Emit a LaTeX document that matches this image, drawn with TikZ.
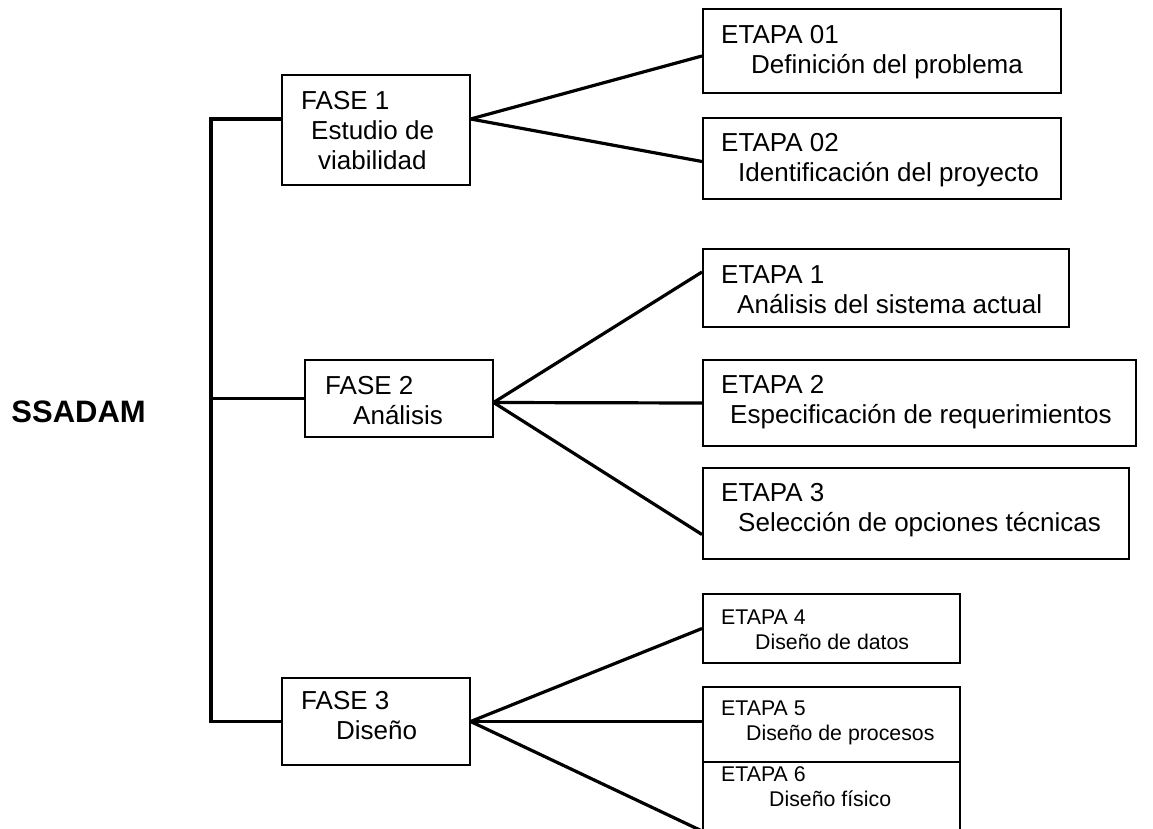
\documentclass[tikz,border=0pt]{standalone}
\usepackage{fontspec}
\setmainfont{Liberation Sans}
\usetikzlibrary{positioning,calc}

\begin{document}
\begin{tikzpicture}[x=1pt, y=-1pt, caja/.style={draw, line width=1.6pt, anchor=west, inner sep=0pt}, txt/.style={anchor=north west, align=left, inner sep=0pt, font=\fontsize{26}{30}\selectfont}, txtchico/.style={txt, font=\fontsize{21.3}{25}\selectfont}, conn/.style={line width=3.2pt}]

\useasboundingbox (0,0) rectangle (1153,829);
\clip (0,0) rectangle (1153,829);

\node[anchor=base east, inner sep=0pt, font=\bfseries\fontsize{31}{36}\selectfont] (ssadam) at (146,422) {SSADAM};

\node[caja, minimum width=188pt, minimum height=110pt] (fase1) at (281,130) {};
\node[txt] (fase1t) at ([shift={(20pt,-16.5pt)}]fase1.north west) {FASE 1\\\hspace*{10pt}Estudio de\\\hspace*{17pt}viabilidad};

\node[caja, minimum width=188pt, minimum height=77pt] (fase2) at (304,398.5) {};
\node[txt] (fase2t) at ([shift={(21pt,-16.5pt)}]fase2.north west) {FASE 2\\\hspace*{28pt}Análisis};

\node[caja, minimum width=188pt, minimum height=87pt] (fase3) at (281,721.5) {};
\node[txt] (fase3t) at ([shift={(20pt,-13.5pt)}]fase3.north west) {FASE 3\\\hspace*{35pt}Diseño};

\node[caja, minimum width=358pt, minimum height=84pt] (e01) at (702,51) {};
\node[txt] (e01t) at ([shift={(19pt,-17.4pt)}]e01.north west) {ETAPA 01\\\hspace*{30pt}Definición del problema};

\node[caja, minimum width=358pt, minimum height=81pt] (e02) at (702,158.5) {};
\node[txt] (e02t) at ([shift={(19pt,-16.4pt)}]e02.north west) {ETAPA 02\\\hspace*{17pt}Identificación del proyecto};

\node[caja, minimum width=366pt, minimum height=78pt] (e1) at (702,288) {};
\node[txt] (e1t) at ([shift={(19pt,-17.4pt)}]e1.north west) {ETAPA 1\\\hspace*{16pt}Análisis del sistema actual};

\node[caja, minimum width=433pt, minimum height=86pt] (e2) at (702,403) {};
\node[txt] (e2t) at ([shift={(19pt,-16.4pt)}]e2.north west) {ETAPA 2\\\hspace*{9pt}Especificación de requerimientos};

\node[caja, minimum width=426pt, minimum height=91pt] (e3) at (702,513.5) {};
\node[txt] (e3t) at ([shift={(19pt,-16.4pt)}]e3.north west) {ETAPA 3\\\hspace*{17pt}Selección de opciones técnicas};

\node[caja, minimum width=257pt, minimum height=69pt] (e4) at (702,628.5) {};
\node[txtchico] (e4t) at ([shift={(19pt,-16.7pt)}]e4.north west) {ETAPA 4\\\hspace*{34pt}Diseño de datos};

\node[caja, minimum width=257pt, minimum height=75pt] (e5) at (702,724.5) {};
\node[txtchico] (e5t) at ([shift={(19pt,-14.7pt)}]e5.north west) {ETAPA 5\\\hspace*{25pt}Diseño de procesos};

\node[caja, minimum width=257pt, minimum height=88pt] (e6) at (702,806) {};
\node[txtchico] (e6t) at ([shift={(19pt,-5.5pt)}]e6.north west) {ETAPA 6\\\hspace*{48pt}Diseño físico};

\coordinate (eje) at (211,0);
\draw[conn] ([yshift=11pt]fase1.west) -| (eje |- fase3.west) -- (fase3.west);
\draw[conn] (fase2.west) -- (fase2.west -| eje);

\draw[conn] ([yshift=11pt]fase1.east) -- ([yshift=-5pt]e01.west);
\draw[conn] ([yshift=11pt]fase1.east) -- ([yshift=-3pt]e02.west);
\draw[conn] ([yshift=-4pt]fase2.east) -- ([yshift=16pt]e1.west);
\draw[conn] ([yshift=-4pt]fase2.east) -- (e2.west);
\draw[conn] ([yshift=-4pt]fase2.east) -- ([yshift=-21pt]e3.west);
\draw[conn] (fase3.east) -- (e4.west);
\draw[conn] (fase3.east) -- ([yshift=3pt]e5.west);
\draw[conn] (fase3.east) -- ([yshift=-25pt]e6.west);
\end{tikzpicture}
\end{document}
